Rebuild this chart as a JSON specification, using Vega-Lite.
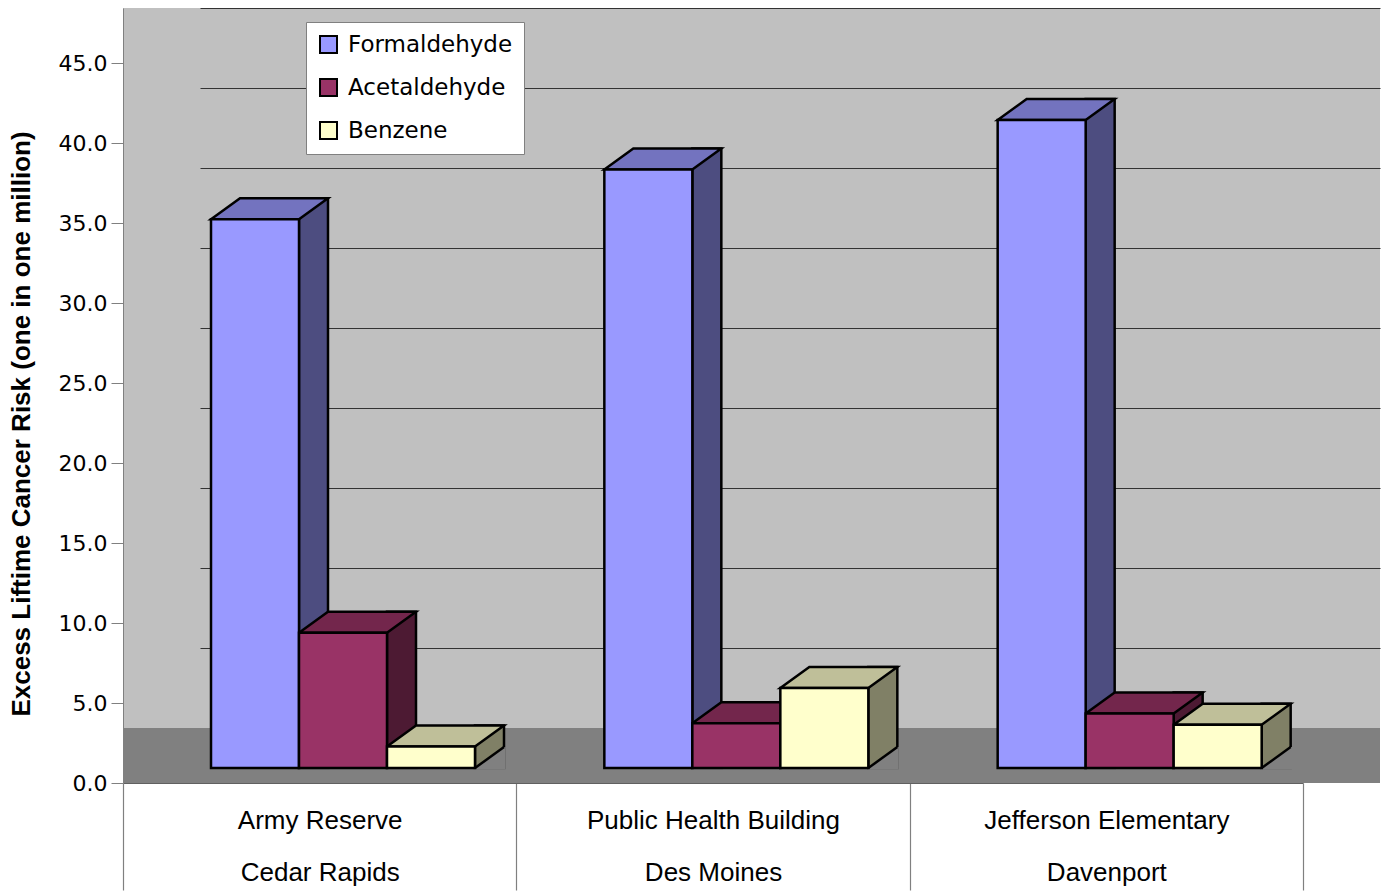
{
  "$schema": "https://vega.github.io/schema/vega-lite/v6.json",
  "autosize": "none",
  "width": 1257,
  "height": 775,
  "padding": {"left": 123, "top": 8, "right": 5, "bottom": 109},
  "background": "white",
  "config": {"font": "Liberation Sans", "view": {"fill": "#C0C0C0", "stroke": null}},
  "data": {
    "values": [
      {"site": "Army Reserve|Cedar Rapids", "chemical": "Formaldehyde", "value": 34.3},
      {"site": "Army Reserve|Cedar Rapids", "chemical": "Acetaldehyde", "value": 8.45},
      {"site": "Army Reserve|Cedar Rapids", "chemical": "Benzene", "value": 1.35},
      {"site": "Public Health Building|Des Moines", "chemical": "Formaldehyde", "value": 37.4},
      {"site": "Public Health Building|Des Moines", "chemical": "Acetaldehyde", "value": 2.8},
      {"site": "Public Health Building|Des Moines", "chemical": "Benzene", "value": 5.0},
      {"site": "Jefferson Elementary|Davenport", "chemical": "Formaldehyde", "value": 40.5},
      {"site": "Jefferson Elementary|Davenport", "chemical": "Acetaldehyde", "value": 3.4},
      {"site": "Jefferson Elementary|Davenport", "chemical": "Benzene", "value": 2.7}
    ]
  },
  "resolve": {"scale": {"xOffset": "independent"}, "axis": {"y": "independent"}},
  "layer": [
    {
      "mark": {"type": "rect", "fill": "#808080"},
      "encoding": {
        "y": {"datum": 0, "type": "quantitative", "scale": {"domain": [0, 48.4375], "nice": false}, "axis": null},
        "y2": {"datum": 3.4375}
      }
    },
    {
      "mark": {"type": "bar", "width": 29, "stroke": "black", "strokeWidth": 2.5, "yOffset": -36, "y2Offset": -15},
      "encoding": {
        "x": {"field": "site", "type": "nominal", "sort": null, "scale": {"range": [0, 1180], "paddingInner": 0, "paddingOuter": 0},
          "axis": {"title": null, "labelExpr": "split(datum.label, '|')", "labelFont": "Liberation Sans", "labelFontSize": 26, "labelLineHeight": 52, "labelColor": "black", "labelAngle": 0, "labelPadding": -83, "labelBaseline": "top", "labelLimit": 400, "tickBand": "extent", "tickSize": 107, "tickColor": "#808080", "tickWidth": 1.2, "domainColor": "#606060", "domainWidth": 1.2}},
        "xOffset": {"field": "chemical", "sort": ["Formaldehyde", "Acetaldehyde", "Benzene"], "scale": {"range": [146.5, 410.5], "paddingInner": 0, "paddingOuter": 0}},
        "y": {"field": "value", "type": "quantitative", "stack": null, "scale": {"domain": [0, 48.4375], "nice": false},
          "axis": {"orient": "right", "grid": true, "gridColor": "#333333", "gridWidth": 1, "labels": false, "ticks": false, "domain": false, "title": null, "tickOffset": -55, "values": [5, 10, 15, 20, 25, 30, 35, 40, 45]}},
        "y2": {"datum": 0},
        "fill": {"condition": [{"test": "datum.chemical === 'Formaldehyde'", "value": "#4D4D80"}, {"test": "datum.chemical === 'Acetaldehyde'", "value": "#4D1A33"}], "value": "#808066"}
      }
    },
    {
      "mark": {"type": "point", "filled": true, "opacity": 1, "strokeWidth": 0, "size": 10000, "yOffset": -15,
        "shape": "M0.88,0L1.46,-0.42L1.49,-0.42L1.49,0.036L0.86,0.036Z", "fill": "#808080"},
      "encoding": {
        "x": {"field": "site", "type": "nominal", "sort": null,
          "axis": {"title": null, "labelExpr": "split(datum.label, '|')", "labelFont": "Liberation Sans", "labelFontSize": 26, "labelLineHeight": 52, "labelColor": "black", "labelAngle": 0, "labelPadding": -83, "labelBaseline": "top", "labelLimit": 400, "tickBand": "extent", "tickSize": 107, "tickColor": "#808080", "tickWidth": 1.2, "domainColor": "#606060", "domainWidth": 1.2}},
        "xOffset": {"field": "chemical", "sort": ["Formaldehyde", "Acetaldehyde", "Benzene"], "scale": {"type": "point", "range": [132, 308], "padding": 0}},
        "y": {"datum": 0, "type": "quantitative", "axis": null}
      }
    },
    {
      "mark": {"type": "point", "filled": false, "opacity": 1, "stroke": "black", "strokeWidth": 2.5, "size": 10000, "yOffset": -15,
        "shape": "M0.88,0L1.46,-0.42"},
      "encoding": {
        "x": {"field": "site", "type": "nominal", "sort": null,
          "axis": {"title": null, "labelExpr": "split(datum.label, '|')", "labelFont": "Liberation Sans", "labelFontSize": 26, "labelLineHeight": 52, "labelColor": "black", "labelAngle": 0, "labelPadding": -83, "labelBaseline": "top", "labelLimit": 400, "tickBand": "extent", "tickSize": 107, "tickColor": "#808080", "tickWidth": 1.2, "domainColor": "#606060", "domainWidth": 1.2}},
        "xOffset": {"field": "chemical", "sort": ["Formaldehyde", "Acetaldehyde", "Benzene"], "scale": {"type": "point", "range": [132, 308], "padding": 0}},
        "y": {"datum": 0, "type": "quantitative", "axis": null}
      }
    },
    {
      "mark": {"type": "point", "filled": true, "opacity": 1, "stroke": "black", "strokeWidth": 2.5, "strokeJoin": "miter", "size": 10000, "yOffset": -15,
        "shape": "M-0.88,0L-0.3,-0.42L1.46,-0.42L0.88,0Z"},
      "encoding": {
        "x": {"field": "site", "type": "nominal", "sort": null,
          "axis": {"title": null, "labelExpr": "split(datum.label, '|')", "labelFont": "Liberation Sans", "labelFontSize": 26, "labelLineHeight": 52, "labelColor": "black", "labelAngle": 0, "labelPadding": -83, "labelBaseline": "top", "labelLimit": 400, "tickBand": "extent", "tickSize": 107, "tickColor": "#808080", "tickWidth": 1.2, "domainColor": "#606060", "domainWidth": 1.2}},
        "xOffset": {"field": "chemical", "sort": ["Formaldehyde", "Acetaldehyde", "Benzene"], "scale": {"type": "point", "range": [132, 308], "padding": 0}},
        "y": {"field": "value", "type": "quantitative", "axis": null},
        "fill": {"condition": [{"test": "datum.chemical === 'Formaldehyde'", "value": "#7373BF"}, {"test": "datum.chemical === 'Acetaldehyde'", "value": "#73264C"}], "value": "#BFBF99"}
      }
    },
    {
      "mark": {"type": "bar", "stroke": "black", "strokeWidth": 2.5, "yOffset": -15, "y2Offset": -15},
      "encoding": {
        "x": {"field": "site", "type": "nominal", "sort": null,
          "axis": {"title": null, "labelExpr": "split(datum.label, '|')", "labelFont": "Liberation Sans", "labelFontSize": 26, "labelLineHeight": 52, "labelColor": "black", "labelAngle": 0, "labelPadding": -83, "labelBaseline": "top", "labelLimit": 400, "tickBand": "extent", "tickSize": 107, "tickColor": "#808080", "tickWidth": 1.2, "domainColor": "#606060", "domainWidth": 1.2}},
        "xOffset": {"field": "chemical", "sort": ["Formaldehyde", "Acetaldehyde", "Benzene"], "scale": {"range": [88, 352], "paddingInner": 0, "paddingOuter": 0}},
        "y": {"field": "value", "type": "quantitative", "stack": null,
          "axis": {"orient": "left", "values": [0, 5, 10, 15, 20, 25, 30, 35, 40, 45], "format": ".1f", "grid": false, "labelFont": "DejaVu Sans", "labelFontSize": 22, "labelColor": "black", "labelPadding": 4, "tickSize": 12, "tickColor": "#808080", "domainColor": "#808080",
            "title": "Excess Liftime Cancer Risk (one in one million)", "titleFont": "Liberation Sans", "titleFontSize": 26, "titleFontWeight": "bold", "titleColor": "black", "titleY": 415.5, "titlePadding": 24}},
        "y2": {"datum": 0},
        "color": {"field": "chemical", "type": "nominal", "sort": ["Formaldehyde", "Acetaldehyde", "Benzene"],
          "scale": {"domain": ["Formaldehyde", "Acetaldehyde", "Benzene"], "range": ["#9999FF", "#993366", "#FFFFCC"]},
          "legend": {"orient": "none", "legendX": 183, "legendY": 14, "title": null, "direction": "vertical", "fillColor": "white", "strokeColor": "#808080", "padding": 11, "symbolType": "square", "symbolSize": 289, "symbolStrokeColor": "black", "symbolStrokeWidth": 2, "symbolOpacity": 1, "labelFont": "DejaVu Sans", "labelFontSize": 23, "labelColor": "black", "labelOffset": 8, "labelLimit": 300, "rowPadding": 18}}
      }
    }
  ]
}
